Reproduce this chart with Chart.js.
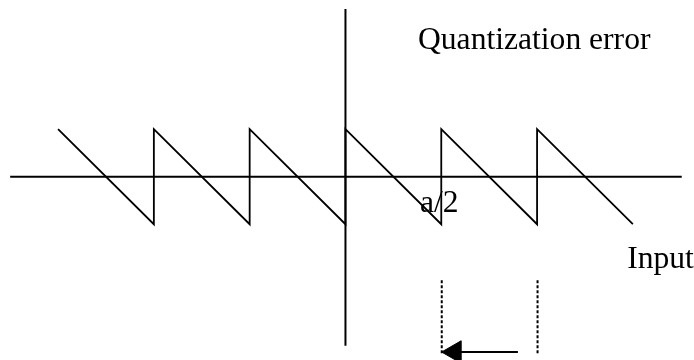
<!DOCTYPE html>
<html>
<head>
<meta charset="utf-8">
<script src="https://cdn.jsdelivr.net/npm/chart.js@4/dist/chart.umd.min.js"></script>
<style>
  body { margin: 0; background: #fff; }
  #wrap { width: 694px; height: 360px; }
</style>
</head>
<body>
<div id="wrap"><canvas id="chart" width="694" height="360"></canvas></div>
<script>
// sawtooth quantization error, one tooth per step a (x in units of a)
const saw_x = [-3, -2, -2, -1, -1, 0, 0, 1, 1, 2, 2, 3];
const saw_y = [0.5, -0.5, 0.5, -0.5, 0.5, -0.5, 0.5, -0.5, 0.5, -0.5, 0.5, -0.5];

// axes drawn as lines
const h_axis_x = [-3.5, 3.51];
const h_axis_y = [0, 0];
const v_axis_x = [0, 0];
const v_axis_y = [1.765, -1.78];

// step marker below the input axis
const dash_x = [1.005, 2.005];
const dash_y = [-1.09, -1.86];
const arrow_x = [1.8, 1.05];
const arrow_y = [-1.845, -1.845];
const head_x = [1.14];

// text labels
const label_text = ["Quantization error", "Input", "a/2"];
const label_x = [0.757, 2.94, 0.778];
const label_y = [1.34, -0.961, -0.372];

function pts(xs, ys) {
  return xs.map(function (x, i) { return { x: x, y: ys[i] }; });
}

const lineStyle = {
  showLine: true,
  borderColor: "#000",
  borderWidth: 2,
  pointRadius: 0,
  tension: 0,
  fill: false,
};

const datasets = [
  Object.assign({ data: pts(h_axis_x, h_axis_y) }, lineStyle),
  Object.assign({ data: pts(v_axis_x, v_axis_y) }, lineStyle),
  Object.assign({ data: pts(saw_x, saw_y) }, lineStyle, { borderWidth: 1.8 }),
  Object.assign({ data: pts(arrow_x, arrow_y) }, lineStyle, { borderWidth: 1.8 }),
];

dash_x.forEach(function (x) {
  datasets.push(Object.assign({ data: pts([x, x], dash_y) }, lineStyle, { borderDash: [3, 2] }));
});

datasets.push({
  data: pts(head_x, [arrow_y[1]]),
  showLine: false,
  pointStyle: "triangle",
  rotation: -90,
  pointRadius: 13,
  backgroundColor: "#000",
  borderColor: "#000",
  borderWidth: 1,
  clip: false,
});

const textLabels = {
  id: "textLabels",
  afterDatasetsDraw(chart) {
    const ctx = chart.ctx;
    const xs = chart.scales.x;
    const ys = chart.scales.y;
    ctx.save();
    ctx.fillStyle = "#000";
    ctx.font = "31.6px 'Liberation Serif', 'Times New Roman', serif";
    ctx.textAlign = "left";
    ctx.textBaseline = "alphabetic";
    label_text.forEach(function (t, i) {
      ctx.fillText(t, xs.getPixelForValue(label_x[i]), ys.getPixelForValue(label_y[i]));
    });
    ctx.restore();
  },
};

new Chart(document.getElementById("chart"), {
  type: "scatter",
  data: { datasets: datasets },
  options: {
    responsive: false,
    animation: false,
    layout: { padding: 0, autoPadding: false },
    plugins: { legend: { display: false }, tooltip: { enabled: false } },
    scales: {
      x: { type: "linear", min: -3.606, max: 3.638, display: false },
      y: { type: "linear", min: -1.929, max: 1.86, display: false },
    },
  },
  plugins: [textLabels],
});
</script>
</body>
</html>
